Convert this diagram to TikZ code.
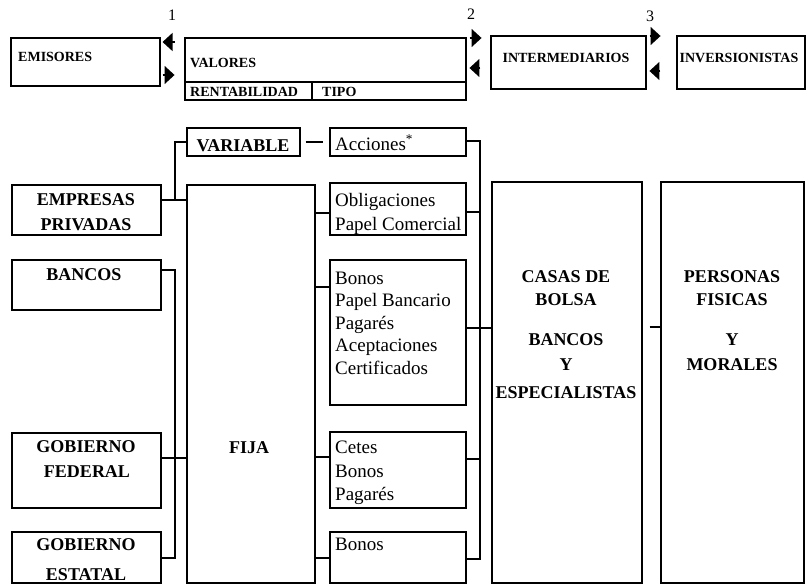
\documentclass[tikz,border=0pt]{standalone}
\usepackage{fontspec}
\setmainfont{Liberation Serif}
\usetikzlibrary{fit,arrows.meta}
\begin{document}
\begin{tikzpicture}[x=1pt,y=-1pt,
  box/.style={draw, line width=1.1pt, inner sep=0pt},
  conn/.style={draw, line width=1.3pt},
  bt/.style={font=\fontsize{18}{22}\selectfont\bfseries, inner sep=0pt, anchor=base},
  rt/.style={font=\fontsize{19}{23}\selectfont, inner sep=0pt, anchor=base west},
  st/.style={font=\fontsize{14}{16}\selectfont\bfseries, inner sep=0pt, anchor=base west},
  num/.style={font=\fontsize{16}{18}\selectfont, inner sep=0pt, anchor=base},
  arr/.style={line width=1.5pt, -{Triangle[length=10pt,width=18pt]}}
]
\path[use as bounding box, fill=white] (0,0) rectangle (808,586);

% ---------- top row ----------
\node[box, fit={(11,38)(160,86)}] (emisores) {};
\node[box, fit={(185,38)(466,100)}] (valores) {};
\node[box, fit={(185,82)(312,100)}] (rentcell) {};
\node[box, fit={(312,82)(466,100)}] (tipocell) {};
\node[box, fit={(491,36)(646,89)}] (interm) {};
\node[box, fit={(677,36)(805,89)}] (invers) {};

\node[st] (temis) at (18,62) {EMISORES};
\node[st] (tval) at (190,67) {VALORES};
\node[st] (trent) at (190,96) {RENTABILIDAD};
\node[st] (ttipo) at (322,96) {TIPO};
\node[st, anchor=base] (tint) at (566,63) {INTERMEDIARIOS};
\node[st, anchor=base] (tinv) at (739,63) {INVERSIONISTAS};

\node[num] (n1) at (172,21) {1};
\node[num] (n2) at (471,20) {2};
\node[num] (n3) at (650,22) {3};

\draw[arr] ([xshift=14pt]emisores.east |- 0,42) -- ([xshift=2pt]emisores.east |- 0,42);
\draw[arr] ([xshift=2pt]emisores.east |- 0,75) -- ([xshift=14pt]emisores.east |- 0,75);
\draw[arr] ([xshift=3pt]valores.east |- 0,38) -- ([xshift=15pt]valores.east |- 0,38);
\draw[arr] ([xshift=-10pt]interm.west |- 0,68) -- ([xshift=-21pt]interm.west |- 0,68);
\draw[arr] ([xshift=3pt]interm.east |- 0,36) -- ([xshift=14pt]interm.east |- 0,36);
\draw[arr] ([xshift=-16pt]invers.west |- 0,71) -- ([xshift=-27pt]invers.west |- 0,71);

% ---------- main boxes ----------
\node[box, fit={(187,128)(300,156)}] (variable) {};
\node[box, fit={(330,128)(466,156)}] (acciones) {};
\node[box, fit={(12,185)(161,235)}] (empresas) {};
\node[box, fit={(12,260)(161,310)}] (bancos) {};
\node[box, fit={(12,433)(161,508)}] (gobfed) {};
\node[box, fit={(12,532)(161,583)}] (gobest) {};
\node[box, fit={(187,185)(315,583)}] (fija) {};
\node[box, fit={(330,183)(466,235)}] (oblig) {};
\node[box, fit={(330,260)(466,405)}] (bonpb) {};
\node[box, fit={(330,432)(466,508)}] (cetes) {};
\node[box, fit={(330,532)(466,583)}] (bonos) {};
\node[box, fit={(492,182)(642,583)}] (casas) {};
\node[box, fit={(661,182)(804,583)}] (personas) {};

% ---------- connectors ----------
\coordinate (jE) at (175,200);
\coordinate (lb1) at (175,270);
\coordinate (lb2) at (175,558);
\coordinate (rb1) at (480,141);
\coordinate (rb2) at (480,559);

\draw[conn] (empresas.east |- jE) -- (fija.west |- jE);
\draw[conn] (variable.west) -| (jE);
\draw[conn] (bancos.east |- lb1) -- (lb1) -- (lb2) -- (gobest.east |- lb2);
\draw[conn] (gobfed.east |- 0,458) -- (fija.west |- 0,458);
\foreach \yy/\nn in {213/oblig, 287/bonpb, 457/cetes, 558/bonos}
  \draw[conn] (fija.east |- 0,\yy) -- (\nn.west |- 0,\yy);
\draw[conn, shorten <=5pt, shorten >=6pt] (variable.east) -- (acciones.west);
\draw[conn] (acciones.east |- rb1) -- (rb1) -- (rb2) -- (bonos.east |- rb2);
\draw[conn] (oblig.east |- 0,212) -- (rb1 |- 0,212);
\draw[conn] (bonpb.east |- 0,328) -- (casas.west |- 0,328);
\draw[conn] (cetes.east |- 0,459) -- (rb1 |- 0,459);
\draw[conn, shorten <=7pt] (casas.east |- 0,327) -- (personas.west |- 0,327);

% ---------- bold labels ----------
\node[bt] (tvar) at (243,151) {VARIABLE};
\node[bt] (temp1) at (86,205) {EMPRESAS};
\node[bt] (temp2) at (86,230) {PRIVADAS};
\node[bt] (tban) at (84,280) {BANCOS};
\node[bt] (tfija) at (249,453) {FIJA};
\node[bt] (tgf1) at (86,452) {GOBIERNO};
\node[bt] (tgf2) at (87,477) {FEDERAL};
\node[bt] (tge1) at (86,550) {GOBIERNO};
\node[bt] (tge2) at (86,580) {ESTATAL};
\node[bt] (tc1) at (566,282) {CASAS DE};
\node[bt] (tc2) at (566,305) {BOLSA};
\node[bt] (tc3) at (566,345) {BANCOS};
\node[bt] (tc4) at (566,370) {Y};
\node[bt] (tc5) at (566,398) {ESPECIALISTAS};
\node[bt] (tp1) at (732,282) {PERSONAS};
\node[bt] (tp2) at (732,305) {FISICAS};
\node[bt] (tp3) at (732,345) {Y};
\node[bt] (tp4) at (732,370) {MORALES};

% ---------- regular labels ----------
\node[rt] (ra) at (335,150) {Acciones\textsuperscript{*}};
\node[rt] (ro1) at (335,206) {Obligaciones};
\node[rt] (ro2) at (335,230) {Papel Comercial};
\node[rt] (rb1t) at (335,284) {Bonos};
\node[rt] (rb2t) at (335,306.5) {Papel Bancario};
\node[rt] (rb3t) at (335,329) {Pagarés};
\node[rt] (rb4t) at (335,351.5) {Aceptaciones};
\node[rt] (rb5t) at (335,374) {Certificados};
\node[rt] (rc1) at (335,453) {Cetes};
\node[rt] (rc2) at (335,477) {Bonos};
\node[rt] (rc3) at (335,500) {Pagarés};
\node[rt] (rbo) at (335,550) {Bonos};
\end{tikzpicture}
\end{document}
